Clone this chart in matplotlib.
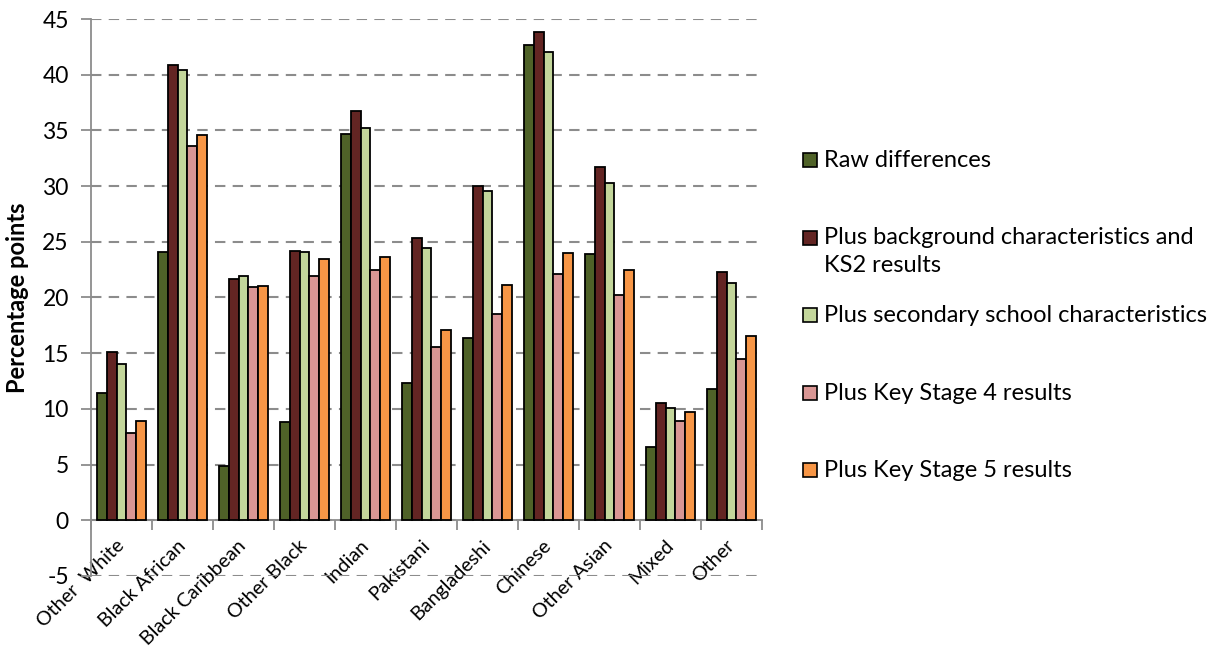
import matplotlib
matplotlib.use("Agg")
import matplotlib.pyplot as plt
import matplotlib.patches as mpatches
import matplotlib.transforms as mtransforms
import numpy as np

categories = ["Other  White", "Black African", "Black Caribbean", "Other Black", "Indian",
              "Pakistani", "Bangladeshi", "Chinese", "Other Asian", "Mixed", "Other"]
series_names = ["Raw differences",
                "Plus background characteristics and\nKS2 results",
                "Plus secondary school characteristics",
                "Plus Key Stage 4 results",
                "Plus Key Stage 5 results"]
raw = [11.4, 24.1, 4.9, 8.8, 34.7, 12.3, 16.4, 42.7, 23.9, 6.6, 11.8]
background = [15.1, 40.9, 21.7, 24.2, 36.7, 25.3, 30.0, 43.8, 31.7, 10.5, 22.3]
secondary = [14.0, 40.4, 21.9, 24.1, 35.2, 24.4, 29.6, 42.0, 30.3, 10.1, 21.3]
ks4 = [7.8, 33.6, 20.9, 21.9, 22.5, 15.6, 18.5, 22.1, 20.2, 8.9, 14.5]
ks5 = [8.9, 34.6, 21.0, 23.5, 23.6, 17.1, 21.1, 24.0, 22.5, 9.7, 16.5]
colors = ["#4F6228", "#632523", "#C3D69B", "#D99694", "#F79646"]
yticks = list(range(-5, 50, 5))

plt.rcParams['font.family'] = ['Lato', 'DejaVu Sans']
plt.rcParams['axes.unicode_minus'] = False

W, H = 1213, 650
fig = plt.figure(figsize=(W / 100, H / 100), dpi=100)
ax = fig.add_axes([91 / W, (H - 576) / H, (762 - 91) / W, (576 - 19) / H])

series = [raw, background, secondary, ks4, ks5]
x = np.arange(len(categories))
bw = 0.158
for i, (vals, c, name) in enumerate(zip(series, colors, series_names)):
    ax.bar(x + (i - 2) * bw, vals, bw, color=c, edgecolor="black", linewidth=1.3,
           label=name, zorder=3)

ax.set_xlim(-0.5, len(categories) - 0.5)
ax.set_ylim(-5, 45)
ax.set_yticks(yticks)
ax.yaxis.grid(True, linestyle=(0, (5, 3.5)), color="#8c8c8c", linewidth=1.5, zorder=0)
ax.set_axisbelow(True)

for s in ["top", "right"]:
    ax.spines[s].set_visible(False)
ax.spines["left"].set_color("#8c8c8c")
ax.spines["left"].set_linewidth(1.3)
ax.spines["bottom"].set_position(("data", 0))
ax.spines["bottom"].set_color("#8c8c8c")
ax.spines["bottom"].set_linewidth(1.3)

ax.tick_params(axis="y", colors="#8c8c8c", length=7, width=1.3, labelsize=16.5,
               labelcolor="black", pad=9)
# category labels
ax.set_xticks(x)
ax.set_xticklabels(categories, rotation=45, ha="right", rotation_mode="anchor", fontsize=14.2)
ax.tick_params(axis="x", which="major", length=0, pad=12)
offset = mtransforms.ScaledTranslation(-6 / 100, 0, fig.dpi_scale_trans)
for lab in ax.get_xticklabels():
    lab.set_transform(lab.get_transform() + offset)
ax.set_xticks(np.arange(-0.5, len(categories) + 0.5, 1), minor=True)
ax.tick_params(axis="x", which="minor", length=7, width=1.3, color="#8c8c8c")

ax.set_ylabel("Percentage points", fontsize=17, fontweight="bold")
ax.yaxis.set_label_coords((29 - 91) / 671, 0.5)

# legend, drawn manually to mimic the even spacing of the original
for i, (c, name) in enumerate(zip(colors, series_names)):
    yc = 160 + 77.5 * i
    fig.patches.append(mpatches.Rectangle((803 / W, (H - yc - 7) / H), 14 / W, 14 / H,
                                          transform=fig.transFigure, facecolor=c,
                                          edgecolor="black", linewidth=1.2))
    for k, line in enumerate(name.split("\n")):
        fig.text(824 / W, (H - yc - 7 - 27 * k) / H, line, fontsize=17,
                 va="baseline", ha="left")

fig.savefig("out.png", dpi=100)
